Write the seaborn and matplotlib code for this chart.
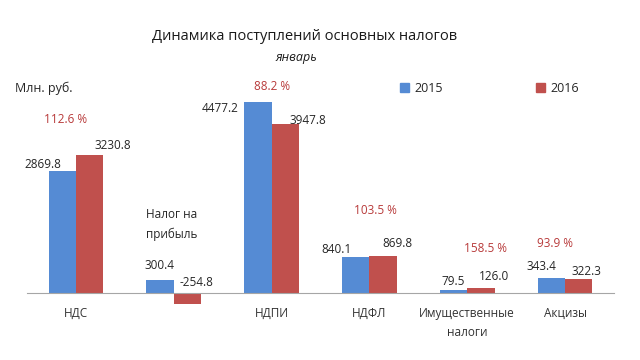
import numpy as np
import pandas as pd
import seaborn as sns
import matplotlib.pyplot as plt

# ---- data ----
categories = ["НДС", "Налог на прибыль", "НДПИ", "НДФЛ", "Имущественные налоги", "Акцизы"]
tick_labels = ["НДС", "", "НДПИ", "НДФЛ", "Имущественные\nналоги", "Акцизы"]
years = ["2015", "2016"]
values_2015 = [2869.8, 300.4, 4477.2, 840.1, 79.5, 343.4]
values_2016 = [3230.8, -254.8, 3947.8, 869.8, 126.0, 322.3]
growth = ["112.6 %", "", "88.2 %", "103.5 %", "158.5 %", "93.9 %"]

# label offsets in pixels (dx, dy) from the bar top
off_2015 = [(-19, 6), (-1, 15), (-38, -7), (-19, 8), (0, 8), (-10, 12)]
off_2016 = [(23, 10), (9, 11), (23, 4), (14, 12), (13, 11), (8, 8)]
# growth label positions (x in category units, y in data units)
growth_pos = [(-0.11, 4060), None, (0.01, 4830), (0.06, 1930), (0.19, 1050), (-0.1, 1170)]

df = pd.DataFrame({
    "cat": categories * 2,
    "year": [years[0]] * 6 + [years[1]] * 6,
    "val": values_2015 + values_2016,
})

blue = "#558BD4"
red = "#C0504D"

sns.set_style("white")
plt.rcParams["font.family"] = ["Open Sans", "DejaVu Sans"]

fig = plt.figure(figsize=(6.4, 3.6), dpi=100)
ax = fig.add_axes([27 / 640, 0.091, (614 - 27) / 640, 0.688])

sns.barplot(data=df, x="cat", y="val", hue="year", palette=[blue, red],
            width=0.56, gap=0, ax=ax, saturation=1, legend=True, linewidth=0)

ax.set_ylim(-800, 5000)
ax.set_xlim(-0.5, 5.5)
ax.set_xlabel("")
ax.set_ylabel("")
ax.set_yticks([])
for s in ["top", "right", "left"]:
    ax.spines[s].set_visible(False)
ax.spines["bottom"].set_position(("data", 0))
ax.spines["bottom"].set_color("#A6A6A6")
ax.set_xticks(range(6))
ax.set_xticklabels(tick_labels, fontsize=8.5, color="#333333", linespacing=1.6)
ax.tick_params(axis="x", which="major", length=0, pad=10)
ax.set_xticks(np.arange(-0.5, 6, 1), minor=True)
ax.tick_params(axis="x", which="minor", length=4, color="#A6A6A6", direction="out")

# value labels
for i in range(6):
    for j, (vals, offs) in enumerate([(values_2015, off_2015), (values_2016, off_2016)]):
        x = i + (-0.14 if j == 0 else 0.14)
        y = max(vals[i], 0)
        ax.annotate(f"{vals[i]:.1f}", (x, y), xytext=offs[i], textcoords="offset pixels",
                    ha="center", va="center", fontsize=8.5, color="#262626")

for i in range(6):
    if growth_pos[i] is None:
        continue
    gx, gy = growth_pos[i]
    ax.text(i + gx, gy, growth[i], ha="center", va="center", fontsize=8.5, color="#B83A3A")

ax.text(0.72, 1230, "Налог на\nприбыль", ha="left", va="bottom", fontsize=8.5,
        color="#262626", linespacing=1.6)

# legend
ax.legend_.remove()
handles = [plt.Rectangle((0, 0), 1, 1, color=blue), plt.Rectangle((0, 0), 1, 1, color=red)]
fig.legend(handles, years, loc="center left", bbox_to_anchor=(389 / 640, 1 - 88 / 360),
           ncol=2, frameon=False, fontsize=9, handlelength=0.7, handleheight=0.7,
           handletextpad=0.4, columnspacing=7.5)

fig.text(15 / 640, 1 - 88 / 360, "Млн. руб.", ha="left", va="center", fontsize=9, color="#262626")
fig.text(305 / 640, 1 - 37 / 360, "Динамика поступлений основных налогов",
         ha="center", va="center", fontsize=10.5, color="#1a1a1a")
fig.text(296 / 640, 1 - 57 / 360, "январь", ha="center", va="center", fontsize=9,
         style="italic", color="#1a1a1a")

fig.savefig("out.png", dpi=100, facecolor="white")
